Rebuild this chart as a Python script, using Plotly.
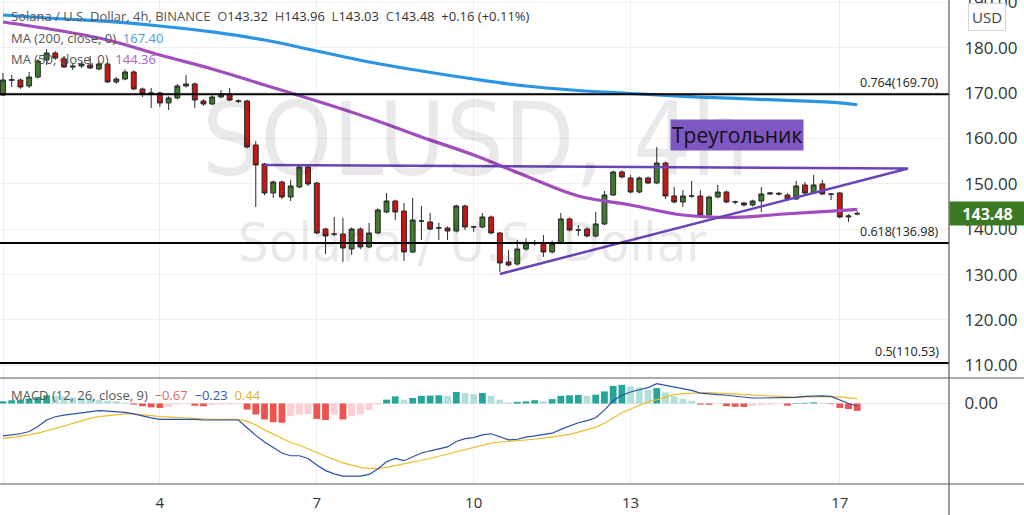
import plotly.graph_objects as go
import pandas as pd

# ---------------- data ----------------
times = pd.date_range("2022-01-01 00:00", periods=99, freq="4h")

opens = [169.56, 172.80, 172.86, 171.54, 173.50, 177.27, 178.81, 177.50, 175.70, 175.95,
         176.17, 175.29, 176.39, 172.42, 173.08, 174.63, 170.88, 169.78, 170.00, 167.80,
         168.90, 171.54, 171.98, 168.24, 167.58, 169.12, 169.78, 168.24, 168.24, 158.55,
         154.36, 147.97, 150.40, 147.09, 149.30, 153.70, 150.18, 140.04, 138.94, 138.94,
         135.64, 140.04, 136.08, 139.16, 143.79, 146.21, 144.00, 134.98, 141.81, 141.59,
         140.26, 140.26, 139.60, 145.11, 140.48, 140.48, 142.69, 139.16, 132.78, 132.33,
         135.64, 136.96, 136.74, 134.98, 136.96, 142.25, 139.82, 140.04, 138.50, 141.15,
         147.53, 152.60, 151.28, 148.19, 151.28, 150.18, 154.58, 147.31, 145.99, 147.31,
         147.31, 143.13, 147.09, 148.19, 145.99, 145.77, 145.33, 146.21, 147.75, 147.90,
         147.53, 146.65, 149.74, 147.97, 149.96, 147.75, 147.97, 142.69, 143.32]
highs = [174.40, 173.96, 173.20, 174.63, 177.40, 179.69, 179.20, 178.15, 176.61, 176.80,
         178.15, 176.90, 176.80, 173.50, 175.20, 175.00, 171.20, 171.10, 170.30, 169.30,
         172.00, 173.96, 172.30, 168.60, 169.50, 170.66, 171.10, 168.60, 168.50, 159.43,
         154.60, 150.70, 150.70, 150.80, 154.00, 154.00, 150.40, 140.30, 142.69, 142.50,
         140.40, 140.40, 141.37, 144.60, 147.97, 146.50, 145.77, 146.87, 145.11, 143.57,
         141.40, 140.60, 145.40, 145.40, 140.80, 143.57, 143.00, 139.40, 135.40, 137.60,
         138.00, 137.60, 138.70, 137.50, 143.57, 142.60, 140.90, 140.40, 143.79, 148.41,
         152.90, 153.00, 151.94, 151.60, 151.60, 158.11, 154.90, 149.30, 148.60, 150.62,
         148.60, 147.40, 149.74, 148.50, 146.30, 146.00, 146.50, 149.30, 148.20, 148.20,
         147.90, 150.62, 150.40, 151.94, 150.84, 148.00, 148.20, 143.30, 143.96]
lows = [169.30, 171.32, 170.90, 171.10, 173.20, 176.17, 177.30, 175.50, 175.07, 175.50,
        175.30, 175.00, 172.20, 172.00, 172.80, 170.60, 169.12, 166.70, 166.92, 166.26,
        168.60, 171.20, 166.70, 167.20, 167.30, 168.80, 168.20, 167.80, 157.80, 144.89,
        147.50, 146.87, 146.60, 146.20, 149.00, 149.50, 138.90, 134.54, 138.50, 132.78,
        134.32, 135.60, 135.80, 138.90, 143.50, 142.03, 133.00, 134.70, 137.62, 139.80,
        137.62, 137.60, 139.30, 139.80, 139.40, 140.20, 138.90, 130.57, 131.80, 132.00,
        135.30, 136.40, 133.90, 134.60, 136.70, 139.50, 138.50, 138.20, 138.20, 140.90,
        147.30, 151.20, 147.90, 147.90, 149.90, 149.90, 146.65, 145.70, 144.89, 146.90,
        142.50, 142.90, 146.80, 145.70, 145.50, 145.00, 145.00, 143.79, 147.50, 147.40,
        146.40, 146.40, 147.70, 147.70, 147.50, 146.40, 142.40, 141.60, 143.03]
closes = [172.86, 172.90, 171.32, 173.52, 177.05, 178.81, 177.70, 175.73, 175.90, 176.39,
          175.51, 176.39, 172.42, 173.08, 174.63, 170.88, 169.78, 170.00, 167.80, 168.90,
          171.54, 171.98, 168.46, 167.58, 169.12, 169.78, 168.46, 168.20, 158.11, 154.14,
          147.97, 150.40, 147.09, 149.52, 153.70, 149.96, 139.16, 138.50, 138.90, 135.86,
          140.04, 136.08, 139.16, 144.23, 146.21, 143.79, 134.98, 142.03, 141.80, 140.04,
          140.30, 139.60, 145.11, 140.48, 140.50, 142.69, 139.16, 132.56, 132.11, 135.64,
          136.96, 137.00, 134.98, 136.74, 142.25, 139.82, 139.80, 138.50, 141.15, 147.53,
          152.60, 151.50, 148.19, 151.28, 150.18, 154.58, 147.31, 145.99, 147.31, 147.30,
          143.13, 147.09, 148.19, 145.99, 146.00, 145.33, 146.21, 147.75, 147.97, 147.75,
          146.65, 149.52, 147.97, 149.74, 147.75, 147.70, 142.69, 142.91, 143.48]

ma_times = ["2022-01-01", "2022-01-02", "2022-01-03", "2022-01-04", "2022-01-05", "2022-01-06",
            "2022-01-07", "2022-01-08", "2022-01-09", "2022-01-10", "2022-01-11", "2022-01-12",
            "2022-01-13", "2022-01-14", "2022-01-15", "2022-01-16", "2022-01-17", "2022-01-17 08:00"]
ma200 = [187.18, 186.41, 185.75, 184.76, 183.44, 181.67, 179.25, 176.83, 174.85, 173.08,
         171.54, 170.55, 169.89, 169.27, 168.79, 168.35, 167.80, 167.40]
ma50 = [185.64, 183.88, 181.67, 178.37, 175.29, 171.76, 168.24, 164.49, 160.31, 156.34,
        151.72, 147.31, 145.33, 143.13, 142.60, 143.40, 144.10, 144.36]

macd = [-2.95, -2.85, -2.75, -2.55, -2.10, -1.50, -1.20, -1.05, -0.95, -0.85,
        -0.72, -0.65, -0.70, -0.75, -0.80, -0.95, -1.15, -1.30, -1.45, -1.45,
        -1.40, -1.40, -1.45, -1.50, -1.50, -1.50, -1.45, -1.50, -2.20, -2.90,
        -3.50, -4.00, -4.50, -4.75, -4.75, -5.00, -5.60, -6.10, -6.40, -6.60,
        -6.60, -6.60, -6.45, -5.95, -5.30, -5.00, -5.20, -4.85, -4.50, -4.30,
        -4.10, -3.95, -3.45, -3.20, -3.10, -2.85, -2.75, -3.05, -3.30, -3.25,
        -3.05, -2.95, -2.85, -2.70, -2.35, -2.05, -1.75, -1.55, -1.30, -0.60,
        0.25, 0.75, 1.05, 1.25, 1.45, 1.80, 1.65, 1.45, 1.35, 1.20,
        0.95, 0.85, 0.80, 0.75, 0.65, 0.55, 0.50, 0.50, 0.50, 0.50,
        0.50, 0.55, 0.65, 0.70, 0.70, 0.65, 0.30, 0.00, -0.23]
signal = [-3.20, -3.10, -3.00, -2.85, -2.70, -2.50, -2.30, -2.05, -1.80, -1.55,
          -1.35, -1.20, -1.10, -1.00, -0.95, -0.95, -1.00, -1.10, -1.20, -1.25,
          -1.30, -1.35, -1.40, -1.40, -1.45, -1.45, -1.45, -1.45, -1.60, -1.95,
          -2.40, -2.80, -3.20, -3.55, -3.80, -4.10, -4.45, -4.80, -5.10, -5.40,
          -5.60, -5.80, -5.90, -5.90, -5.80, -5.65, -5.50, -5.35, -5.20, -5.00,
          -4.80, -4.60, -4.40, -4.20, -3.95, -3.75, -3.60, -3.50, -3.45, -3.40,
          -3.35, -3.25, -3.15, -3.05, -2.95, -2.80, -2.60, -2.40, -2.15, -1.80,
          -1.30, -0.85, -0.50, -0.15, 0.15, 0.35, 0.60, 0.80, 0.90, 0.95,
          1.00, 1.00, 0.95, 0.90, 0.85, 0.80, 0.75, 0.70, 0.65, 0.60,
          0.60, 0.60, 0.60, 0.62, 0.65, 0.65, 0.60, 0.52, 0.44]
hist = [0.20, 0.30, 0.35, 0.45, 0.60, 0.75, 0.70, 0.65, 0.55, 0.50,
        0.45, 0.35, 0.25, 0.20, 0.10, -0.10, -0.25, -0.35, -0.40, -0.30,
        -0.10, -0.05, -0.20, -0.25, -0.15, -0.10, -0.10, -0.05, -0.55, -1.00,
        -1.45, -1.70, -1.75, -1.15, -1.00, -0.95, -1.40, -1.50, -1.00, -1.45,
        -1.15, -1.00, -0.60, -0.10, 0.35, 0.65, 0.35, 0.50, 0.70, 0.72,
        0.75, 0.70, 1.05, 0.95, 0.85, 0.95, 0.70, 0.35, 0.10, 0.15,
        0.20, 0.30, 0.20, 0.40, 0.70, 0.75, 0.78, 0.70, 0.80, 1.10,
        1.60, 1.70, 1.55, 1.45, 1.25, 1.40, 1.00, 0.65, 0.40, 0.25,
        -0.10, -0.12, -0.05, -0.25, -0.30, -0.32, -0.20, -0.15, -0.10, -0.05,
        -0.20, 0.05, 0.06, 0.10, 0.05, -0.05, -0.40, -0.50, -0.67]

fib_levels = [169.70, 136.98, 110.53]
fib_labels = ["0.764(169.70)", "0.618(136.98)", "0.5(110.53)"]

tri_times = ["2022-01-06 00:00", "2022-01-18 07:20", "2022-01-10 12:00"]
tri_prices = [154.14, 153.37, 130.13]

price_ticks = [110, 120, 130, 140, 150, 160, 170, 180, 190]
date_ticks = ["2022-01-01", "2022-01-04", "2022-01-07", "2022-01-10", "2022-01-13", "2022-01-17"]
date_labels = ["2022", "4", "7", "10", "13", "17"]
last_price = 143.48

# ---------------- layout helpers ----------------
W, H = 1024, 515
PL, PR, PT, PB = 0, 949, 0, 484          # plot area pixels
def px(x):
    return (x - PL) / (PR - PL)
def py(y):
    return (PB - y) / (PB - PT)

FONT = "Open Sans, Noto Sans, sans-serif"
WFONT = "Liberation Sans Narrow, DejaVu Sans Condensed, sans-serif"
GRID = "#efefef"

x_start = pd.Timestamp("2022-01-01") - pd.Timedelta(hours=24 * 3 / 52.3)
x_end = x_start + pd.Timedelta(hours=24 * 949 / 52.3)

fig = go.Figure()

# MA lines
fig.add_trace(go.Scatter(x=ma_times, y=ma200, mode="lines", line=dict(color="#2b95e3", width=3.2, shape="spline"),
                         xaxis="x", yaxis="y", hoverinfo="skip"))
fig.add_trace(go.Scatter(x=ma_times, y=ma50, mode="lines", line=dict(color="#a24dbe", width=3.2, shape="spline"),
                         xaxis="x", yaxis="y", hoverinfo="skip"))

# candles
fig.add_trace(go.Candlestick(
    x=times, open=opens, high=highs, low=lows, close=closes,
    increasing=dict(fillcolor="#3f7a2d", line=dict(color="#2a2a2a", width=1)),
    decreasing=dict(fillcolor="#c81616", line=dict(color="#2a2a2a", width=1)),
    xaxis="x", yaxis="y", hoverinfo="skip"))

# triangle
fig.add_trace(go.Scatter(x=tri_times, y=tri_prices, mode="lines", line=dict(color="#6a45ba", width=2.5),
                         xaxis="x", yaxis="y", hoverinfo="skip"))

# MACD histogram colours
hcolors = []
for i, v in enumerate(hist):
    p = hist[i - 1] if i > 0 else v - 0.1
    if v >= 0:
        hcolors.append("#26a69a" if v > p else "#b2dfdb")
    else:
        hcolors.append("#ef5350" if v < p else "#ffcdd2")

fig.add_trace(go.Bar(x=times, y=hist, marker=dict(color=hcolors, line=dict(width=0)),
                     xaxis="x2", yaxis="y2", hoverinfo="skip"))
fig.add_trace(go.Scatter(x=times, y=signal, mode="lines", line=dict(color="#e9bd2e", width=1.2),
                         xaxis="x2", yaxis="y2", hoverinfo="skip"))
fig.add_trace(go.Scatter(x=times, y=macd, mode="lines", line=dict(color="#2c4fa6", width=1.2),
                         xaxis="x2", yaxis="y2", hoverinfo="skip"))

shapes = []
for lv in fib_levels:
    shapes.append(dict(type="line", xref="paper", yref="y", x0=0, x1=1, y0=lv, y1=lv,
                       line=dict(color="#000000", width=2)))
ext = W / PR
shapes.append(dict(type="line", xref="paper", yref="paper", x0=0, x1=ext, y0=py(378), y1=py(378),
                   line=dict(color="#5a5a5a", width=1.2)))
shapes.append(dict(type="line", xref="paper", yref="paper", x0=0, x1=ext, y0=0, y1=0,
                   line=dict(color="#5a5a5a", width=1.2)))
shapes.append(dict(type="line", xref="paper", yref="paper", x0=1, x1=1, y0=py(H), y1=1,
                   line=dict(color="#5a5a5a", width=1.2)))

annotations = []
# watermark
annotations.append(dict(text="SOLUSD, 4h", xref="paper", yref="paper", x=px(475), y=py(139), yanchor="middle",
                        xanchor="center", showarrow=False,
                        font=dict(family=WFONT, size=102, color="rgba(0,0,0,0.085)")))
annotations.append(dict(text="Solana / U.S. Dollar", xref="paper", yref="paper", x=px(472), y=py(243),
                        yanchor="middle", xanchor="center", showarrow=False,
                        font=dict(family=WFONT, size=54, color="rgba(0,0,0,0.085)")))
# fib labels
for lv, lb in zip(fib_levels, fib_labels):
    annotations.append(dict(text=lb, xref="paper", yref="y", x=px(941), y=lv, xanchor="right", yanchor="bottom",
                            yshift=1, showarrow=False, font=dict(family=FONT, size=12.5, color="#222")))
# pattern label
annotations.append(dict(text="Треугольник", xref="x", yref="y", x="2022-01-15 00:40", y=160.64,
                        showarrow=False, bgcolor="#7e57c2", borderpad=1, xanchor="center", yanchor="middle",
                        font=dict(family=FONT, size=21, color="#111")))
# legend texts
g = "#555"
sp = "&nbsp; "
v = "<span style='color:#333'>%s</span>"
annotations.append(dict(
    text=("Solana / U.S. Dollar, 4h, BINANCE" + sp + "O" + v % "143.32" + sp + "H" + v % "143.96" + sp +
          "L" + v % "143.03" + sp + "C" + v % "143.48" + sp + v % "+0.16 (+0.11%)"),
    xref="paper", yref="paper", x=px(9), y=py(16), xanchor="left", yanchor="middle", showarrow=False,
    font=dict(family=FONT, size=13, color=g)))
annotations.append(dict(text="MA (200, close, 0)" + sp + "<span style='color:#4b9ad8'>167.40</span>",
                        xref="paper", yref="paper", x=px(9), y=py(38), xanchor="left", yanchor="middle",
                        showarrow=False, font=dict(family=FONT, size=13, color=g)))
annotations.append(dict(text="MA (50, close, 0)" + sp + "<span style='color:#a666bd'>144.36</span>",
                        xref="paper", yref="paper", x=px(9), y=py(59), xanchor="left", yanchor="middle",
                        showarrow=False, font=dict(family=FONT, size=13, color=g)))
annotations.append(dict(text=("MACD (12, 26, close, 9)" + sp + "<span style='color:#d96b6b'>−0.67</span>" + sp +
                              "<span style='color:#3556b0'>−0.23</span>" + sp + "<span style='color:#e0b227'>0.44</span>"),
                        xref="paper", yref="paper", x=px(9), y=py(395), xanchor="left", yanchor="middle",
                        showarrow=False, font=dict(family=FONT, size=13, color=g)))
# price scale extras
annotations.append(dict(text="USD", xref="paper", yref="paper", x=px(987), y=py(17), xanchor="center",
                        yanchor="middle", showarrow=False, bgcolor="#ffffff", bordercolor="#d6d6d6",
                        borderwidth=1, borderpad=3, font=dict(family=FONT, size=15, color="#444")))
annotations.append(dict(text="<b>%.2f</b>" % last_price, xref="paper", yref="y", x=1, y=last_price, xanchor="left",
                        yanchor="middle", showarrow=False, bgcolor="#3b7a22", width=71, height=19, borderpad=2,
                        align="center", font=dict(family=FONT, size=16, color="#ffffff")))

fig.update_layout(
    width=W, height=H,
    margin=dict(l=PL, r=W - PR, t=PT, b=H - PB, autoexpand=False),
    paper_bgcolor="#ffffff", plot_bgcolor="#ffffff",
    showlegend=False, bargap=0.22, boxgap=0.2,
    shapes=shapes, annotations=annotations,
    xaxis=dict(domain=[0, 1], anchor="y", range=[x_start, x_end], type="date", automargin=False,
               tickvals=date_ticks, showticklabels=False, showgrid=True, gridcolor=GRID,
               rangeslider=dict(visible=False), zeroline=False, showline=False),
    xaxis2=dict(domain=[0, 1], anchor="y2", range=[x_start, x_end], type="date", matches="x", automargin=False,
                tickvals=date_ticks, ticktext=date_labels, showgrid=True, gridcolor=GRID,
                ticks="outside", ticklen=5, tickcolor="rgba(0,0,0,0)",
                tickfont=dict(family=FONT, size=15, color="#333"), zeroline=False, showline=False),
    yaxis=dict(domain=[py(378), 1], anchor="x", side="right", range=[107.22, 190.48], automargin=False,
               tickvals=price_ticks, ticktext=["%.2f" % p for p in price_ticks],
               ticks="outside", ticklen=11, tickcolor="rgba(0,0,0,0)", ticklabeloverflow="allow",
               tickfont=dict(family=FONT, size=17, color="#333"),
               showgrid=True, gridcolor=GRID, zeroline=False, showline=False),
    yaxis2=dict(domain=[0, py(378)], anchor="x2", side="right", range=[-7.32, 2.32], automargin=False,
                tickvals=[0], ticktext=["0.00"], ticks="outside", ticklen=11, tickcolor="rgba(0,0,0,0)",
                tickfont=dict(family=FONT, size=17, color="#333"),
                showgrid=True, gridcolor="#e6e6e6", zeroline=False, showline=False),
)

fig.write_html("out.html", config={"displayModeBar": False, "staticPlot": True},
               post_script="document.body.style.margin='0px';document.body.style.overflow='hidden';")
